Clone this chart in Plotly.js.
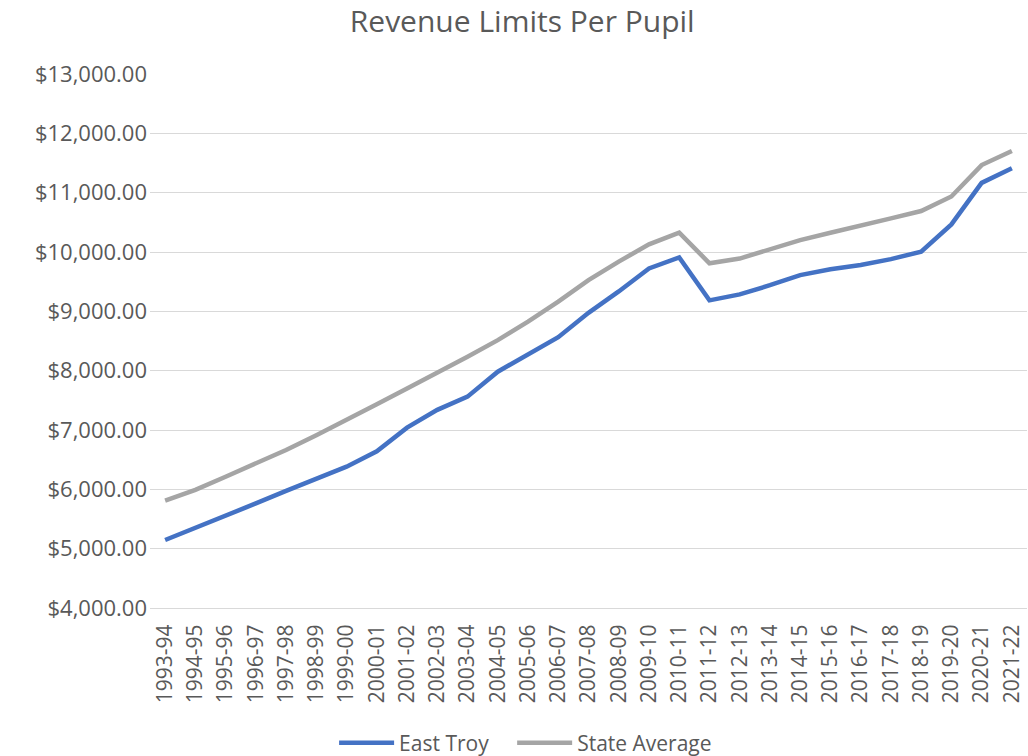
<!DOCTYPE html>
<html>
<head>
<meta charset="utf-8">
<script src="https://cdn.plot.ly/plotly-3.0.1.min.js"></script>
<style>html,body{margin:0;padding:0;background:#fff;}#chart{width:1028px;height:756px;}</style>
</head>
<body>
<div id="chart"></div>
<script>
const years = ["1993-94","1994-95","1995-96","1996-97","1997-98","1998-99","1999-00","2000-01","2001-02","2002-03","2003-04","2004-05","2005-06","2006-07","2007-08","2008-09","2009-10","2010-11","2011-12","2012-13","2013-14","2014-15","2015-16","2016-17","2017-18","2018-19","2019-20","2020-21","2021-22"];
const eastTroy = [5146,5345,5551,5762,5975,6182,6382,6640,7040,7340,7562,7983,8265,8565,8975,9335,9722,9910,9185,9285,9440,9610,9708,9780,9880,10005,10465,11165,11410];
const stateAverage = [5810,5990,6213,6438,6663,6912,7166,7432,7700,7963,8235,8515,8825,9163,9525,9838,10128,10325,9810,9890,10045,10200,10325,10455,10567,10690,10935,11465,11702];

const traces = [
  {x: years, y: eastTroy, name: "East Troy", type: "scatter", mode: "lines",
   line: {color: "#4472C4", width: 4.5}, legend: "legend"},
  {x: years, y: stateAverage, name: "State Average", type: "scatter", mode: "lines",
   line: {color: "#A5A5A5", width: 4.5}, legend: "legend2"}
];

const legendBase = {orientation: "h", xref: "container", xanchor: "left",
  yref: "container", y: 0.017, yanchor: "middle",
  font: {family: "Open Sans, sans-serif", size: 21, color: "#595959"},
  itemwidth: 55, bgcolor: "rgba(0,0,0,0)"};

const layout = {
  width: 1028, height: 756,
  margin: {l: 150, r: 1, t: 74, b: 148},
  paper_bgcolor: "#ffffff", plot_bgcolor: "#ffffff",
  font: {family: "Open Sans, sans-serif", color: "#595959"},
  title: {text: "Revenue Limits Per Pupil", x: 0.508, xref: "container", xanchor: "center",
          y: 0.971, yref: "container", yanchor: "middle",
          font: {family: "Open Sans, sans-serif", size: 30, color: "#595959"}},
  xaxis: {type: "category", range: [-0.5, 28.5], tickangle: -90, showgrid: false,
          showline: true, linecolor: "#D9D9D9", linewidth: 1, ticks: "",
          ticklabelstandoff: 7,
          tickfont: {family: "Open Sans, sans-serif", size: 21, color: "#595959"}, zeroline: false},
  yaxis: {range: [4000, 13000], dtick: 1000, tick0: 4000, tickformat: "$,.2f",
          showgrid: true, gridcolor: "#D9D9D9", gridwidth: 1, zeroline: false, showline: false,
          ticks: "", ticklabelstandoff: 2,
          tickfont: {family: "Open Sans, sans-serif", size: 22, color: "#595959"}},
  showlegend: true,
  legend: Object.assign({}, legendBase, {x: 0.325}),
  legend2: Object.assign({}, legendBase, {x: 0.4982})
};

Plotly.newPlot("chart", traces, layout, {displayModeBar: false, staticPlot: true});
</script>
</body>
</html>
